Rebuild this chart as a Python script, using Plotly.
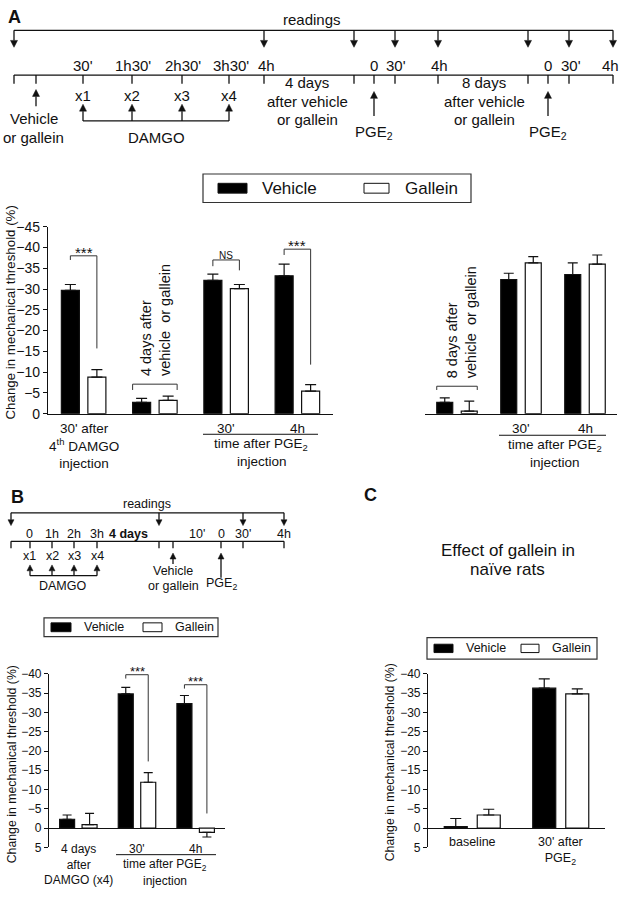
import plotly.graph_objects as go

W, H = 622, 899
FONT = "Liberation Sans, Arial, Helvetica, sans-serif"
INK = "#111111"

# ---------------- data ----------------
A1_CATS = ["30' after 4th DAMGO", "4 days after", "PGE2 30'", "PGE2 4h"]
A1_VEH = [-29.7, -2.7, -32.1, -33.2]
A1_VEH_ERR = [1.4, 1.0, 1.5, 2.8]
A1_GAL = [-8.8, -3.2, -30.1, -5.4]
A1_GAL_ERR = [1.8, 1.0, 1.0, 1.6]

A2_CATS = ["8 days after", "PGE2 30'", "PGE2 4h"]
A2_VEH = [-2.7, -32.3, -33.5]
A2_VEH_ERR = [1.1, 1.5, 2.8]
A2_GAL = [-0.6, -36.3, -36.0]
A2_GAL_ERR = [2.4, 1.5, 2.2]

B_CATS = ["4 days after DAMGO", "PGE2 30'", "PGE2 4h"]
B_VEH = [-2.3, -34.8, -32.3]
B_VEH_ERR = [1.1, 1.7, 2.1]
B_GAL = [-0.9, -11.9, 1.1]
B_GAL_ERR = [2.9, 2.5, 1.2]

C_CATS = ["baseline", "30' after PGE2"]
C_VEH = [-0.4, -36.3]
C_VEH_ERR = [2.1, 2.4]
C_GAL = [-3.4, -34.8]
C_GAL_ERR = [1.5, 1.3]

A_YTICKS = [0, -5, -10, -15, -20, -25, -30, -35, -40, -45]
BC_YTICKS = [5, 0, -5, -10, -15, -20, -25, -30, -35, -40]

SERIES = ["Vehicle", "Gallein"]
Y_TITLE = "Change in mechanical threshold (%)"

# significance brackets: (group index, bracket level, left leg end, right leg end, label)
A1_SIG = [(0, -38.0, -37.0, -15.7, "***"), (2, -37.0, -35.5, -34.5, "NS"), (3, -39.6, -38.2, -11.8, "***")]
B_SIG = [(1, -39.8, -38.8, -17.3, "***"), (2, -37.2, -36.2, -3.8, "***")]
# group brackets: (group index, level, leg end, rotated text)
A1_GROUP = (1, -7.1, -5.7, "4 days after<br>vehicle\u00a0 or gallein")
A2_GROUP = (0, -6.6, -5.7, "8 days after<br>vehicle\u00a0 or gallein")

A1_XLABELS = ["30' after<br>4<sup>th</sup> DAMGO<br>injection", "", "30'", "4h"]
A2_XLABELS = ["", "30'", "4h"]
B_XLABELS = ["4 days<br>after<br>DAMGO (x4)", "30'", "4h"]
C_XLABELS = ["baseline", "30' after<br>PGE<sub>2</sub>"]


def px(x):
    return x / W


def py(y):
    return 1 - y / H


fig = go.Figure()
shapes = []
annots = []


def text(x, y, s, size, xanchor="center", yanchor="middle", **kw):
    annots.append(dict(x=px(x), y=py(y), xref="paper", yref="paper", text=s, showarrow=False,
                       font=dict(family=FONT, size=size, color=INK), xanchor=xanchor, yanchor=yanchor, **kw))


def pline(x0, y0, x1, y1, w=1.3):
    shapes.append(dict(type="line", xref="paper", yref="paper", x0=px(x0), y0=py(y0), x1=px(x1), y1=py(y1),
                       line=dict(color=INK, width=w)))


def arrow(x, y_tail, y_tip, hw, hl, w=1.3):
    d = 1 if y_tip > y_tail else -1
    base = y_tip - d * hl
    pline(x, y_tail, x, base, w)
    shapes.append(dict(type="path", xref="paper", yref="paper",
                       path=f"M{px(x-hw)},{py(base)} L{px(x+hw)},{py(base)} L{px(x)},{py(y_tip)} Z",
                       fillcolor=INK, line=dict(color=INK, width=0.5)))


def add_bars(xa, ya, cats, veh, veh_err, gal, gal_err, w, sep, cap):
    for name, vals, errs, fill, off in ((SERIES[0], veh, veh_err, "black", -sep / 2 - w / 2),
                                        (SERIES[1], gal, gal_err, "white", sep / 2 - w / 2)):
        plus = [e if v > 0 else 0 for v, e in zip(vals, errs)]
        minus = [e if v <= 0 else 0 for v, e in zip(vals, errs)]
        fig.add_trace(go.Bar(x=cats, y=vals, name=name, width=w, offset=off, xaxis=xa, yaxis=ya,
                             marker=dict(color=fill, line=dict(color=INK, width=1.2)),
                             error_y=dict(type="data", symmetric=False, array=plus, arrayminus=minus,
                                          color=INK, thickness=1.2, width=cap),
                             showlegend=False, hoverinfo="skip"))


def dline(xr, yr, x0, y0, x1, y1, w=1.0, color="#333333"):
    shapes.append(dict(type="line", xref=xr, yref=yr, x0=x0, y0=y0, x1=x1, y1=y1,
                       line=dict(color=color, width=w)))


def sig(xr, yr, spec, sep, size, yshift):
    idx, lev, lend, rend, lab = spec
    xl, xrr = idx - sep / 2, idx + sep / 2
    dline(xr, yr, xl, lend, xl, lev)
    dline(xr, yr, xl, lev, xrr, lev)
    dline(xr, yr, xrr, lev, xrr, rend)
    annots.append(dict(x=idx, y=lev, xref=xr, yref=yr, text=lab, showarrow=False, yanchor="bottom",
                       yshift=yshift, font=dict(family=FONT, size=size, color=INK)))


def group_bracket(xr, yr, spec, sep, w, size, xshift=0):
    idx, lev, leg, lab = spec
    xl, xrr = idx - sep / 2 - w / 2, idx + sep / 2 + w / 2
    dline(xr, yr, xl, leg, xl, lev)
    dline(xr, yr, xl, lev, xrr, lev)
    dline(xr, yr, xrr, lev, xrr, leg)
    annots.append(dict(x=idx, y=lev, xref=xr, yref=yr, text=lab, showarrow=False, textangle=-90,
                       yanchor="bottom", yshift=6, xshift=xshift, align="left",
                       font=dict(family=FONT, size=size, color=INK)))


def xlabels(xr, labels, ytop, size):
    for i, lab in enumerate(labels):
        if lab:
            annots.append(dict(x=i, y=py(ytop), xref=xr, yref="paper", text=lab, showarrow=False,
                               yanchor="top", font=dict(family=FONT, size=size, color=INK)))


def legend(x0, y0, x1, y1, r1, t1, r2, t2, rh, size):
    shapes.append(dict(type="rect", xref="paper", yref="paper", x0=px(x0), y0=py(y0), x1=px(x1), y1=py(y1),
                       line=dict(color="#333333", width=1.2), fillcolor="white"))
    yc = (y0 + y1) / 2
    shapes.append(dict(type="rect", xref="paper", yref="paper", x0=px(r1[0]), x1=px(r1[1]),
                       y0=py(yc - rh / 2), y1=py(yc + rh / 2), fillcolor="black", line=dict(color=INK, width=1)))
    shapes.append(dict(type="rect", xref="paper", yref="paper", x0=px(r2[0]), x1=px(r2[1]),
                       y0=py(yc - rh / 2), y1=py(yc + rh / 2), fillcolor="white", line=dict(color=INK, width=1)))
    text(t1, yc, SERIES[0], size, xanchor="left")
    text(t2, yc, SERIES[1], size, xanchor="left")


# ---------------- panel A timeline ----------------
text(14, 9, "<b>A</b>", 18)
text(312, 12, "readings", 15)
pline(14, 22.7, 613, 22.7)
for x in [14, 264, 354, 395, 438, 528, 569, 613]:
    arrow(x, 22.7, 40, 3.5, 7)
pline(14, 68.3, 613, 68.3)
for x in [14, 36, 83, 132, 182, 229, 264, 354, 374, 395, 438, 528, 548, 569, 613]:
    pline(x, 68.3, x, 77)
for s, x in [("30'", 83), ("1h30'", 133), ("2h30'", 183), ("3h30'", 231), ("4h", 266), ("0", 374),
             ("30'", 396), ("4h", 439), ("0", 548), ("30'", 571), ("4h", 610)]:
    text(x, 59, s, 15)
for i, x in enumerate([83, 132, 182, 229]):
    text(x, 89, f"x{i+1}", 15)
    arrow(x, 115, 98, 3.5, 7)
pline(83, 115, 229, 115)
text(156, 132, "DAMGO", 15)
arrow(36, 100, 83, 3.5, 7)
text(34, 113, "Vehicle", 15)
text(33, 132, "or gallein", 15)
for x in [374, 548]:
    arrow(x, 110, 85, 3.5, 7)
    text(x, 127, "PGE<sub>2</sub>", 15)
for x, d in [(307, "4 days"), (484, "8 days")]:
    text(x, 76, d, 15)
    text(x, 95, "after vehicle", 15)
    text(x, 114, "or gallein", 15)

# ---------------- panel A charts ----------------
legend(203, 169, 471, 198, (218, 247), 260, (364, 389), 403, 10, 17)

A1_W, A1_SEP = 0.253, 0.372
A2_W, A2_SEP = 0.25, 0.383
add_bars("x", "y", A1_CATS, A1_VEH, A1_VEH_ERR, A1_GAL, A1_GAL_ERR, A1_W, A1_SEP, 5.5)
add_bars("x2", "y2", A2_CATS, A2_VEH, A2_VEH_ERR, A2_GAL, A2_GAL_ERR, A2_W, A2_SEP, 5)
for s in A1_SIG:
    sig("x", "y", s, A1_SEP, 10 if s[4] == "NS" else 15, -3 if s[4] == "NS" else -7)
group_bracket("x", "y", A1_GROUP, A1_SEP, A1_W, 14.5)
group_bracket("x2", "y2", A2_GROUP, A2_SEP, A2_W, 14.5, xshift=4)
xlabels("x", A1_XLABELS, 418, 13.5)
xlabels("x2", A2_XLABELS, 418, 13.5)
pline(203, 434, 318, 434, 1)
text(261, 444, "time after PGE<sub>2</sub>", 13.5)
text(262, 462, "injection", 13.5)
pline(499, 435, 606, 435, 1)
text(555, 445, "time after PGE<sub>2</sub>", 13.5)
text(555, 463, "injection", 13.5)
text(10, 310, Y_TITLE, 13.3, textangle=-90)

# ---------------- panel B ----------------
text(17, 498, "<b>B</b>", 18)
text(147, 505, "readings", 12.5)
pline(11, 514, 284, 514)
for x in [11, 159, 243, 284]:
    arrow(x, 514, 527, 3, 6)
pline(11, 543, 284, 543)
for x in [11, 30, 52, 74, 97, 159, 173, 221, 243, 284]:
    pline(x, 543, x, 550)
for s, x in [("0", 30), ("1h", 52), ("2h", 74), ("3h", 97), ("<b>4 days</b>", 128), ("10'", 197),
             ("0", 221), ("30'", 243), ("4h", 284)]:
    text(x, 536, s, 12.5)
for i, x in enumerate([30, 52, 74, 97]):
    text(x, 558, f"x{i+1}", 12.5)
    arrow(x, 578, 567, 3, 6)
pline(30, 578, 97, 578)
text(63, 588, "DAMGO", 12.5)
arrow(173, 566, 555, 3, 6)
text(173, 573, "Vehicle", 12.5)
text(173, 588, "or gallein", 12.5)
arrow(221, 580, 555, 3, 6)
text(221, 586, "PGE<sub>2</sub>", 12.5)

legend(44, 621, 218, 640, (51, 71), 82, (143, 162), 173, 9, 12.5)
B_W, B_SEP = 0.256, 0.383
add_bars("x3", "y3", B_CATS, B_VEH, B_VEH_ERR, B_GAL, B_GAL_ERR, B_W, B_SEP, 4.5)
for s in B_SIG:
    sig("x3", "y3", s, B_SEP, 13, -6)
xlabels("x3", B_XLABELS, 847, 12)
pline(116, 862, 216, 862, 1)
text(165, 873, "time after PGE<sub>2</sub>", 12)
text(165, 889, "injection", 12)
text(12, 770, Y_TITLE, 12.3, textangle=-90)

# ---------------- panel C ----------------
text(370, 496, "<b>C</b>", 18)
text(508, 552, "Effect of gallein in", 17)
text(507, 572, "naïve rats", 17)
legend(427, 641, 597, 663, (434, 453), 464, (521, 539), 550, 8.5, 12.5)
C_W, C_SEP = 0.26, 0.373
add_bars("x4", "y4", C_CATS, C_VEH, C_VEH_ERR, C_GAL, C_GAL_ERR, C_W, C_SEP, 5.5)
xlabels("x4", C_XLABELS, 840, 12.5)
text(390, 768, Y_TITLE, 12.3, textangle=-90)

# ---------------- axes ----------------
common_x = dict(type="category", showgrid=False, zeroline=False, ticks="", showticklabels=False,
                linecolor=INK, linewidth=1.2, fixedrange=True)
common_y = dict(showgrid=False, showline=True, linecolor=INK, linewidth=1.2, ticks="outside", ticklen=4,
                tickwidth=1.2, tickcolor=INK, fixedrange=True)
yA = [py(413), py(222.7)]
yBC = [py(854.6), py(678)]

fig.update_layout(
    width=W, height=H, autosize=False, margin=dict(l=0, r=0, t=0, b=0),
    paper_bgcolor="white", plot_bgcolor="rgba(0,0,0,0)", barmode="overlay", showlegend=False,
    font=dict(family=FONT, color=INK),
    xaxis=dict(common_x, domain=[px(48), px(333)], anchor="y", range=[-0.5, 3.5], showline=True),
    yaxis=dict(common_y, domain=yA, anchor="x", range=[0, -45], tickvals=A_YTICKS, zeroline=False,
               tickfont=dict(size=14, family=FONT, color=INK)),
    xaxis2=dict(common_x, domain=[px(425), px(617)], anchor="y2", range=[-0.5, 2.5], showline=True),
    yaxis2=dict(domain=yA, anchor="x2", range=[0, -45], visible=False, fixedrange=True),
    xaxis3=dict(common_x, domain=[px(49), px(225)], anchor="y3", range=[-0.5, 2.5], showline=False),
    yaxis3=dict(common_y, domain=yBC, anchor="x3", range=[5, -40], tickvals=BC_YTICKS, zeroline=True,
                zerolinecolor=INK, zerolinewidth=1.2, tickfont=dict(size=12, family=FONT, color=INK)),
    xaxis4=dict(common_x, domain=[px(428), px(605)], anchor="y4", range=[-0.5, 1.5], showline=False),
    yaxis4=dict(common_y, domain=yBC, anchor="x4", range=[5, -40], tickvals=BC_YTICKS, zeroline=True,
                zerolinecolor=INK, zerolinewidth=1.2, tickfont=dict(size=12, family=FONT, color=INK)),
    shapes=shapes, annotations=annots,
)

fig.write_html("out.html", config={"displayModeBar": False},
               post_script="document.body.style.margin='0';document.body.style.padding='0';"
                           "document.body.style.overflow='hidden';")
